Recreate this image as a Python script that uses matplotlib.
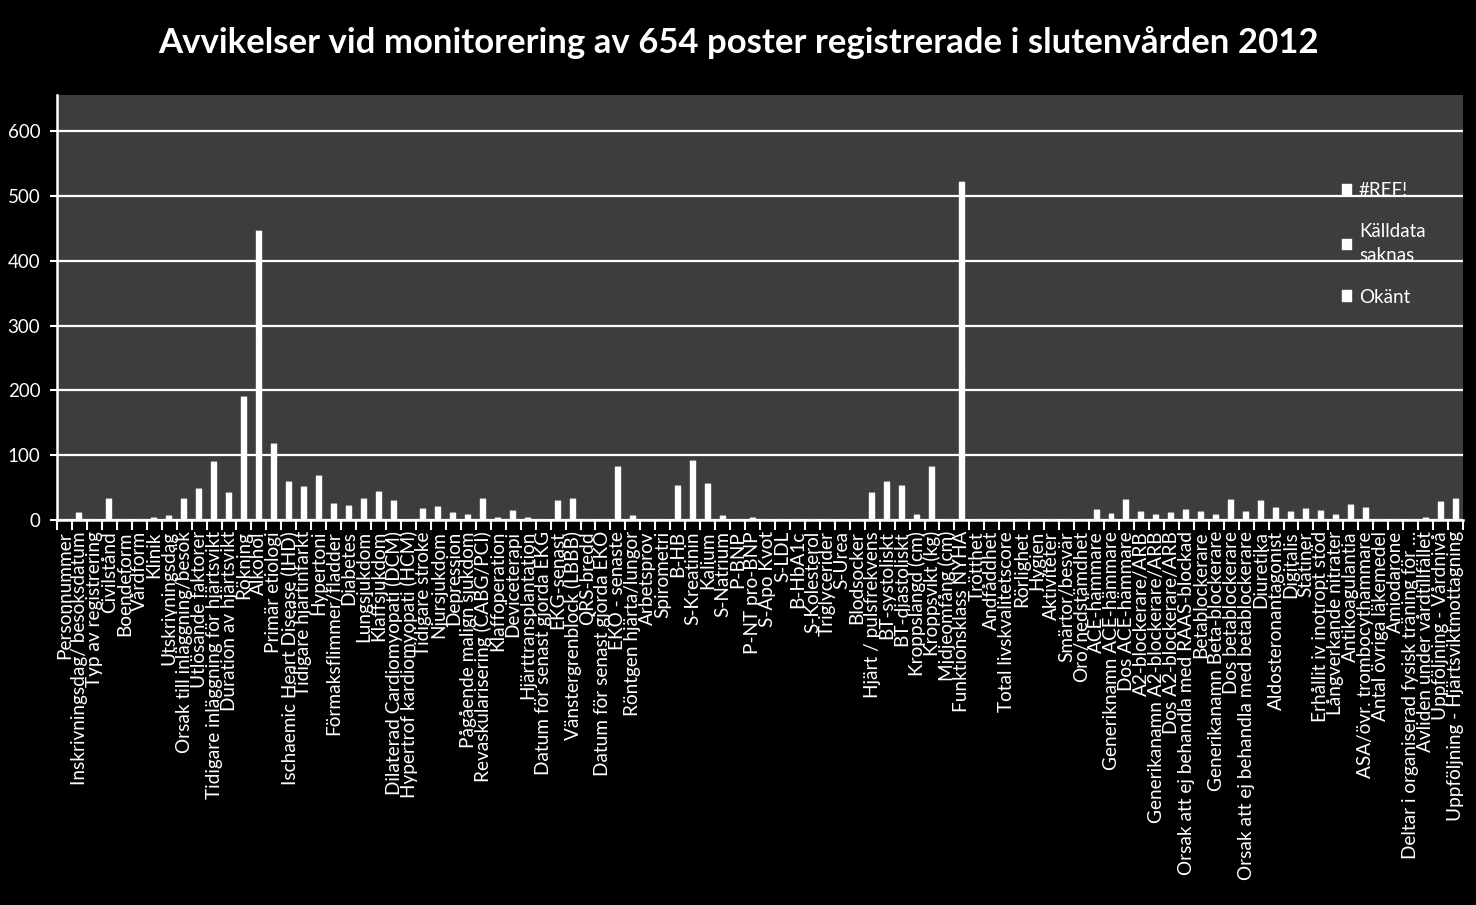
import numpy as np
import matplotlib
matplotlib.use('Agg')
import matplotlib.pyplot as plt
from matplotlib.ticker import FixedLocator

plt.rcParams['font.family'] = ['Lato', 'DejaVu Sans']

categories = [
    'Personnummer', 'Inskrivningsdag/ besöksdatum', 'Typ av registrering', 'Civilstånd',
    'Boendeform', 'Vårdform', 'Klinik', 'Utskrivningsdag', 'Orsak till inläggning/besök',
    'Utlösande faktorer', 'Tidigare inläggning för hjärtsvikt', 'Duration av hjärtsvikt',
    'Rökning', 'Alkohol', 'Primär etiologi', 'Ischaemic Heart Disease (IHD)',
    'Tidigare hjärtinfarkt', 'Hypertoni', 'Förmaksflimmer/fladder', 'Diabetes',
    'Lungsjukdom', 'Klaffsjukdom', 'Dilaterad Cardiomyopati (DCM)',
    'Hypertrof kardiomyopati (HCM)', 'Tidigare stroke', 'Njursjukdom', 'Depression',
    'Pågående malign sjukdom', 'Revaskularisering (CABG/PCI)', 'Klaffoperation',
    'Deviceterapi', 'Hjärttransplantation', 'Datum för senast gjorda EKG', 'EKG-senast',
    'Vänstergrenblock (LBBB)', 'QRS-bredd', 'Datum för senast gjorda EKO', 'EKO - senaste',
    'Röntgen hjärta/lungor', 'Arbetsprov', 'Spirometri', 'B-HB', 'S-Kreatinin', 'Kalium',
    'S-Natrium', 'P-BNP', 'P-NT pro-BNP', 'S-Apo Kvot', 'S-LDL', 'B-HbA1c', 'S-Kolesterol',
    'Triglycerider', 'S-Urea', 'Blodsocker', 'Hjärt / pulsfrekvens', 'BT-systoliskt',
    'BT-diastoliskt', 'Kroppslängd (cm)', 'Kroppsvikt (kg)', 'Midjeomfång (cm)',
    'Funktionsklass NYHA', 'Trötthet', 'Andfåddhet', 'Total livskvalitetscore', 'Rörlighet',
    'Hygien', 'Aktiviteter', 'Smärtor/besvär', 'Oro/nedstämdhet', 'ACE-hämmare',
    'Generiknamn ACE-hämmare', 'Dos ACE-hämmare', 'A2-blockerare/ARB',
    'Generikanamn A2-blockerare/ARB', 'Dos A2-blockerare/ARB',
    'Orsak att ej behandla med RAAS-blockad', 'Betablockerare',
    'Generikanamn Beta-blockerare', 'Dos betablockerare',
    'Orsak att ej behandla med betablockerare', 'Diuretika', 'Aldosteronantagonist',
    'Digitalis', 'Statiner', 'Erhållit iv inotropt stöd', 'Långverkande nitrater',
    'Antikoagulantia', 'ASA/övr. trombocythämmare', 'Antal övriga läkemedel', 'Amiodarone',
    'Deltar i organiserad fysisk träning för …', 'Avliden under vårdtillfället',
    'Uppföljning - Vårdnivå', 'Uppföljning - Hjärtsviktmottagning',
]

okant = [
    0, 11, 0, 32, 0, 0, 3, 6, 32, 48, 89, 42, 190, 281, 117, 58,
    51, 68, 25, 22, 32, 43, 29, 0, 17, 20, 11, 8, 32, 3, 14, 3,
    0, 29, 32, 0, 0, 82, 6, 0, 0, 52, 91, 55, 6, 0, 3, 0,
    0, 0, 0, 0, 0, 0, 42, 58, 52, 8, 82, 0, 231, 0, 0, 0,
    0, 0, 0, 0, 0, 15, 9, 31, 12, 8, 11, 15, 12, 8, 31, 12,
    29, 18, 12, 17, 14, 8, 23, 18, 0, 0, 0, 3, 28, 32,
]
kalldata_saknas = [0] * 94
kalldata_saknas[13] = 165   # Alkohol
kalldata_saknas[60] = 290   # Funktionsklass NYHA
ref_err = [0] * 94

series = [('Okänt', okant), ('Källdata saknas', kalldata_saknas), ('#REF!', ref_err)]

fig = plt.figure(figsize=(14.76, 9.05), dpi=100, facecolor='black')
ax = fig.add_axes([57/1476, 1-520/905, (1463-57)/1476, (520-95)/905])
ax.set_facecolor('#3d3d3d')

x = np.arange(len(categories))
bottom = np.zeros(len(categories))
handles = {}
for name, vals in series:
    v = np.array(vals, dtype=float)
    b = ax.bar(x, v, 0.4, bottom=bottom, color='white', edgecolor='#f2f2f2', lw=0.3, zorder=3)
    handles[name] = b
    bottom += v

ax.set_xlim(-0.5, len(categories)-0.5)
ax.set_ylim(0, 656)
ax.set_yticks(range(0, 700, 100))
ax.yaxis.grid(True, color='white', lw=1.6, zorder=1)
ax.set_axisbelow(True)

ax.set_xticks(x)
ax.set_xticklabels(categories, rotation=90, ha='center', va='top', color='white', fontsize=13.7)
ax.tick_params(axis='x', which='major', length=0, pad=8)
ax.xaxis.set_minor_locator(FixedLocator(np.arange(-0.5, len(categories), 1)))
ax.tick_params(axis='x', which='minor', length=7, color='white', width=1.5)
ax.tick_params(axis='y', length=5, color='white', width=1.5, labelcolor='white', labelsize=13.5, pad=7)

for s in ['top', 'right']:
    ax.spines[s].set_visible(False)
for s in ['left', 'bottom']:
    ax.spines[s].set_color('white')
    ax.spines[s].set_linewidth(1.8)

leg = ax.legend([handles['#REF!'], handles['Källdata saknas'], handles['Okänt']],
                ['#REF!', 'Källdata\nsaknas', 'Okänt'],
                loc='upper left', bbox_to_anchor=(0.902, 0.835), frameon=False,
                labelcolor='white', fontsize=13.5, handlelength=0.55, handleheight=0.55,
                handletextpad=0.35, labelspacing=1.3)
for t in leg.get_texts():
    t.set_linespacing(1.5)

fig.text(0.5, 0.953, 'Avvikelser vid monitorering av 654 poster registrerade i slutenvården 2012',
         ha='center', va='center', color='white', fontsize=25, fontweight='bold')

fig.savefig('out.png', dpi=100, facecolor='black')
